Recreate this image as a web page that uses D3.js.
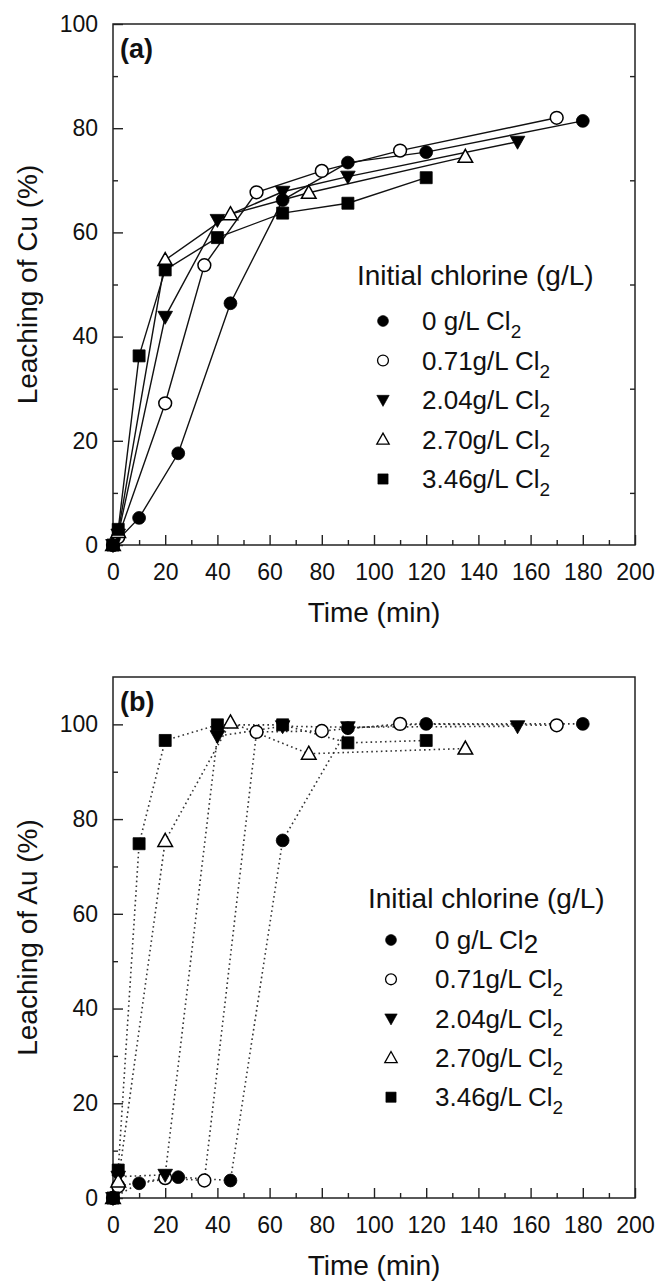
<!DOCTYPE html>
<html>
<head>
<meta charset="utf-8">
<script src="https://cdn.jsdelivr.net/npm/d3@7"></script>
<style>
  body { margin: 0; background: #fff; }
  svg text { font-family: "Liberation Sans", Arial, Helvetica, sans-serif; fill: #111; }
</style>
</head>
<body>
<div id="chart"></div>
<script>
const width = 659, height = 1287;

// legend labels (subscript 2 added when drawn) and marker per series
const legendLabels = ["0 g/L Cl", "0.71g/L Cl", "2.04g/L Cl", "2.70g/L Cl", "3.46g/L Cl"];
const markerTypes = ["dot", "ring", "down", "up", "square"];

// sampling times (min) per series
const time0   = [0, 10, 25, 45, 65, 90, 120, 180];
const time071 = [0, 2, 20, 35, 55, 80, 110, 170];
const time204 = [0, 2, 20, 40, 65, 90, 155];
const time270 = [0, 2, 20, 45, 75, 135];
const time346 = [0, 2, 10, 20, 40, 65, 90, 120];

// leaching of Cu (%) - panel (a)
const cu0   = [0, 5.2, 17.6, 46.4, 66.2, 73.4, 75.4, 81.4];
const cu071 = [0, 1.5, 27.2, 53.7, 67.7, 71.8, 75.7, 82.0];
const cu204 = [0, 2.0, 43.8, 62.4, 67.8, 70.7, 77.4];
const cu270 = [0, 2.5, 54.7, 63.5, 67.6, 74.5];
const cu346 = [0, 3.0, 36.3, 52.8, 59.0, 63.7, 65.6, 70.5];

// leaching of Au (%) - panel (b)
const au0   = [0, 3.1, 4.4, 3.7, 75.5, 99.2, 100.1, 100.1];
const au071 = [0, 2.5, 4.2, 3.7, 98.4, 98.6, 100.1, 99.8];
const au204 = [0, 4.5, 4.9, 97.5, 99.6, 99.4, 99.6];
const au270 = [0, 3.5, 75.4, 100.4, 93.8, 94.9];
const au346 = [0, 5.9, 74.8, 96.6, 99.9, 99.9, 96.1, 96.6];

// ticks
const xMajor = [0, 20, 40, 60, 80, 100, 120, 140, 160, 180, 200];
const xMinor = [10, 30, 50, 70, 90, 110, 130, 150, 170, 190];
const yMajor = [0, 20, 40, 60, 80, 100];
const yMinor = [10, 30, 50, 70, 90];

const times = [time0, time071, time204, time270, time346];
const cuSeries = [cu0, cu071, cu204, cu270, cu346];
const auSeries = [au0, au071, au204, au270, au346];

const left = 113, right = 635;

const svg = d3.select("#chart").append("svg")
    .attr("width", width)
    .attr("height", height);

const x = d3.scaleLinear().domain([0, 200]).range([left, right]);

function markerPath(type, s) {
  if (type == "dot" || type == "ring") {
    let r = 6.4 * s;
    return `M${-r},0a${r},${r} 0 1,0 ${2 * r},0a${r},${r} 0 1,0 ${-2 * r},0Z`;
  }
  if (type == "square") {
    let h = 6 * s;
    return `M${-h},${-h}H${h}V${h}H${-h}Z`;
  }
  let w = 7.3 * s;
  if (type == "down") return `M${-w},${-5.5 * s}H${w}L0,${7.5 * s}Z`;
  return `M0,${-7.5 * s}L${w},${5.5 * s}H${-w}Z`;
}

function isOpen(type) {
  return type == "ring" || type == "up";
}

function tidy(sel, fontSize) {
  sel.select(".domain").remove();
  sel.selectAll(".tick line").attr("stroke", "#222").attr("stroke-width", 1.4);
  sel.selectAll(".tick text").attr("font-size", fontSize).attr("fill", "#111")
    .style("font-family", "'Liberation Sans', Arial, sans-serif");
}

function drawPanel(p) {
  const y = d3.scaleLinear().domain([0, p.yMax]).range([p.bottom, p.top]);
  const g = svg.append("g");

  // bottom axis, ticks inward
  g.append("g").attr("transform", `translate(0,${p.bottom})`)
    .call(d3.axisBottom(x).tickValues(xMajor).tickSize(-10).tickSizeOuter(0).tickPadding(19))
    .call(tidy, 23);
  g.append("g").attr("transform", `translate(0,${p.bottom})`)
    .call(d3.axisBottom(x).tickValues(xMinor).tickSize(-5).tickSizeOuter(0).tickFormat(""))
    .call(tidy, 23);

  // left axis
  g.append("g").attr("transform", `translate(${left},0)`)
    .call(d3.axisLeft(y).tickValues(yMajor).tickSize(-10).tickSizeOuter(0).tickPadding(15))
    .call(tidy, 23);
  g.append("g").attr("transform", `translate(${left},0)`)
    .call(d3.axisLeft(y).tickValues(yMinor).tickSize(-5).tickSizeOuter(0).tickFormat(""))
    .call(tidy, 23);

  // right axis (only some ticks)
  if (p.rightTicks) {
    g.append("g").attr("transform", `translate(${right},0)`)
      .call(d3.axisRight(y).tickValues(p.rightTicks).tickSize(-5).tickSizeOuter(0).tickFormat(""))
      .call(tidy, 23);
  }

  // frame
  g.append("rect")
    .attr("x", left).attr("y", p.top)
    .attr("width", right - left).attr("height", p.bottom - p.top)
    .attr("fill", "none").attr("stroke", "#222").attr("stroke-width", 1.5);

  const line = d3.line().x(d => x(d[0])).y(d => y(d[1]));

  p.series.forEach((vals, i) => {
    let pts = times[i].map((t, j) => [t, vals[j]]);
    let path = g.append("path")
      .attr("d", line(pts))
      .attr("fill", "none");
    if (p.dotted) {
      path.attr("stroke", "#333").attr("stroke-width", 1.6).attr("stroke-dasharray", "1.6,3.2");
    } else {
      path.attr("stroke", "#111").attr("stroke-width", 1.4);
    }
  });

  p.series.forEach((vals, i) => {
    let type = markerTypes[i];
    let pts = times[i].map((t, j) => [t, vals[j]]);
    g.selectAll(null).data(pts)
      .enter()
        .append("path")
        .attr("d", markerPath(type, 1))
        .attr("transform", d => `translate(${x(d[0])},${y(d[1])})`)
        .attr("fill", isOpen(type) ? "#fff" : "#000")
        .attr("stroke", "#000")
        .attr("stroke-width", isOpen(type) ? 1.5 : 0.8);
  });

  // panel label
  g.append("text").attr("x", left + 7).attr("y", p.top + 34)
    .attr("font-size", 27).attr("font-weight", "bold").text(p.label);

  // axis titles
  g.append("text")
    .attr("transform", `translate(37,${(p.top + p.bottom) / 2}) rotate(-90)`)
    .attr("text-anchor", "middle").attr("font-size", 28)
    .text(p.yTitle);
  g.append("text")
    .attr("x", (left + right) / 2).attr("y", p.bottom + 77)
    .attr("text-anchor", "middle").attr("font-size", 28)
    .text("Time (min)");

  // legend
  g.append("text").attr("x", p.legX).attr("y", p.legY)
    .attr("font-size", 28).text("Initial chlorine (g/L)");

  legendLabels.forEach((lab, i) => {
    let ly = p.entryY + i * p.entryStep;
    let type = markerTypes[i];
    g.append("path")
      .attr("d", markerPath(type, 0.85))
      .attr("transform", `translate(${p.markX},${ly})`)
      .attr("fill", isOpen(type) ? "#fff" : "#000")
      .attr("stroke", "#000")
      .attr("stroke-width", isOpen(type) ? 1.3 : 0.6);
    let t = g.append("text").attr("x", p.textX).attr("y", ly + 9).attr("font-size", 26);
    t.append("tspan").text(lab);
    if (p.bigFirst && i == 0) {
      t.append("tspan").attr("dy", 4).text("2");
    } else {
      t.append("tspan").attr("dy", 8).attr("font-size", 19).text("2");
    }
  });
}

drawPanel({
  top: 24, bottom: 545, yMax: 100,
  series: cuSeries, dotted: false,
  rightTicks: yMinor,
  label: "(a)", yTitle: "Leaching of Cu (%)",
  legX: 357, legY: 285, markX: 383, textX: 422, entryY: 321, entryStep: 39.5,
  bigFirst: false
});

drawPanel({
  top: 677, bottom: 1198, yMax: 110,
  series: auSeries, dotted: true,
  rightTicks: null,
  label: "(b)", yTitle: "Leaching of Au (%)",
  legX: 368, legY: 908, markX: 391, textX: 435, entryY: 940, entryStep: 39.3,
  bigFirst: true
});
</script>
</body>
</html>
